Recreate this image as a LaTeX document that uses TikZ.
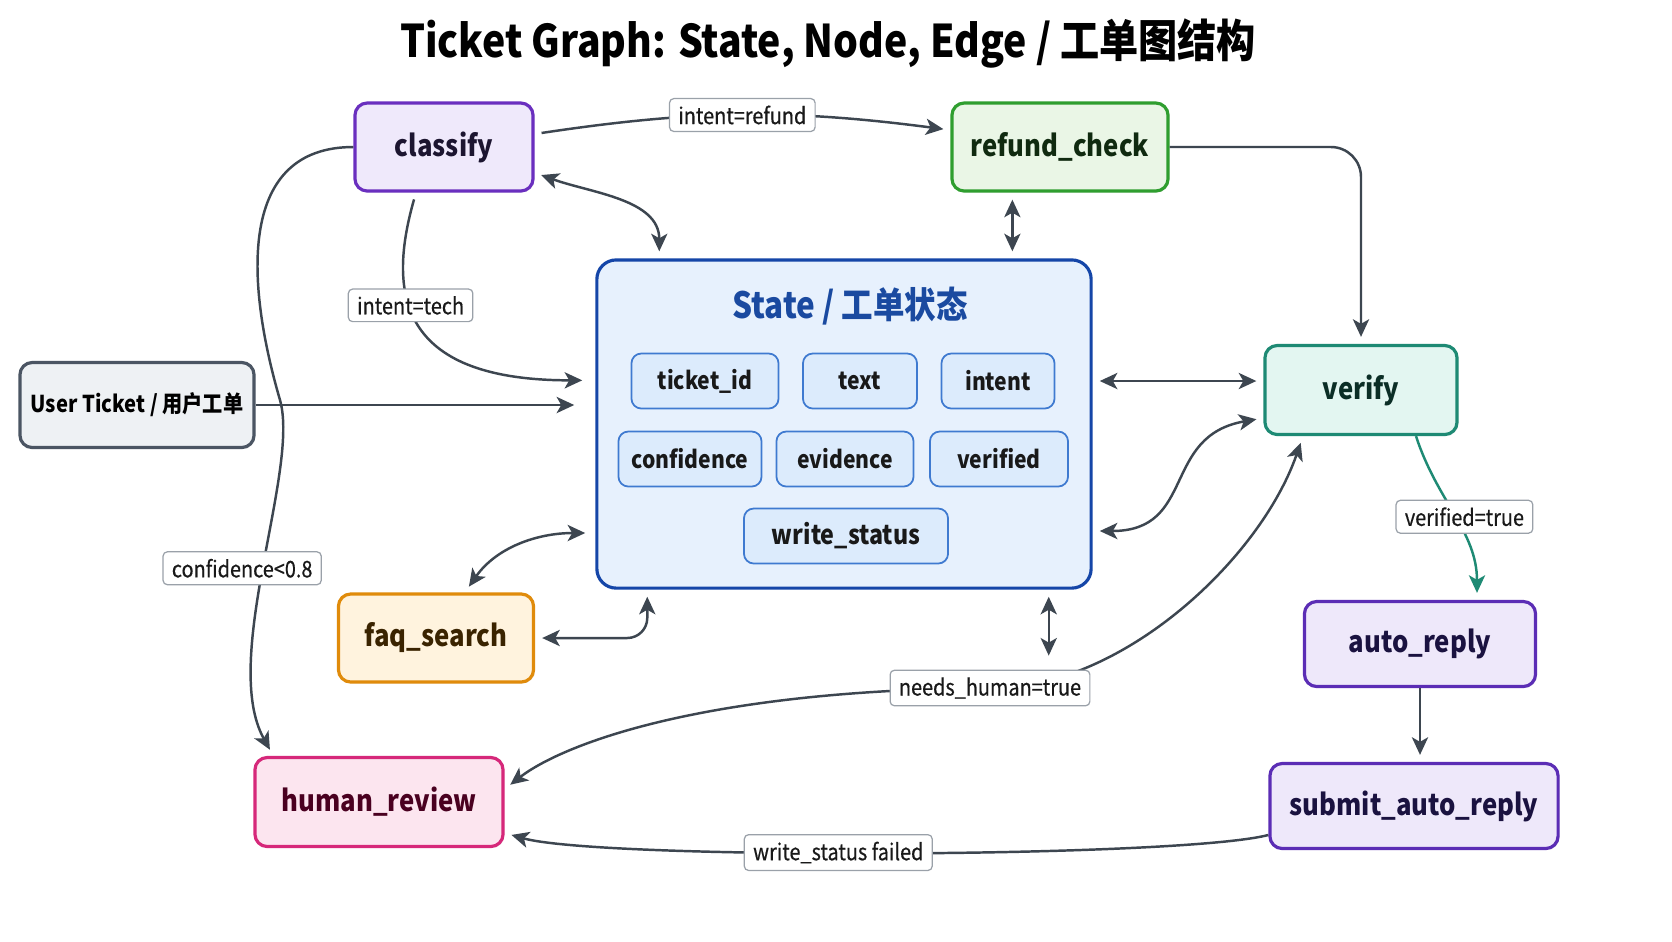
\documentclass[tikz,border=0pt]{standalone}
\usepackage{fontspec}
\setmainfont{Noto Sans CJK SC}[FakeStretch=0.87]
\newfontfamily\lblfont{Noto Sans CJK SC}[FakeStretch=0.87, FakeBold=0.5]
\usepackage{xcolor}
\usepackage{tikz}
\usetikzlibrary{arrows.meta, calc, shadows}
\definecolor{edgecol}{HTML}{3D4650}
\definecolor{lblcol}{HTML}{9AA1A9}
\definecolor{clsfill}{HTML}{EFE9FB}
\definecolor{clsdraw}{HTML}{6A2FBF}
\definecolor{clstext}{HTML}{1C1530}
\definecolor{grnfill}{HTML}{EAF6E6}
\definecolor{grndraw}{HTML}{2F9E2F}
\definecolor{grntext}{HTML}{102A10}
\definecolor{tealfill}{HTML}{E3F6F1}
\definecolor{tealdraw}{HTML}{1E8A74}
\definecolor{tealtext}{HTML}{0B2E26}
\definecolor{orgfill}{HTML}{FFF3DE}
\definecolor{orgdraw}{HTML}{E08B0B}
\definecolor{orgtext}{HTML}{3A2300}
\definecolor{pnkfill}{HTML}{FCE5EF}
\definecolor{pnkdraw}{HTML}{D6287A}
\definecolor{pnktext}{HTML}{4A0020}
\definecolor{autofill}{HTML}{EEE8FA}
\definecolor{autodraw}{HTML}{5B2DB5}
\definecolor{autotext}{HTML}{1A1240}
\definecolor{userfill}{HTML}{EEF1F4}
\definecolor{userdraw}{HTML}{4B5563}
\definecolor{statefill}{HTML}{E7F1FD}
\definecolor{statedraw}{HTML}{1546A8}
\definecolor{statetext}{HTML}{1A4AA0}
\definecolor{fieldfill}{HTML}{DCEBFC}
\definecolor{fielddraw}{HTML}{3F7AD0}
\tikzset{
    modnode/.style   = {draw, line width=0.9pt, rounded corners=3.5pt, align=center,
                        font=\fontsize{8.4}{10}\selectfont\bfseries, inner sep=2pt,
                        minimum height=0.88cm, drop shadow={opacity=0.12,
                        shadow xshift=0.4pt, shadow yshift=-0.4pt}},
    clsnode/.style   = {modnode, fill=clsfill, draw=clsdraw, text=clstext},
    grnnode/.style   = {modnode, fill=grnfill, draw=grndraw, text=grntext},
    tealnode/.style  = {modnode, fill=tealfill, draw=tealdraw, text=tealtext},
    orgnode/.style   = {modnode, fill=orgfill, draw=orgdraw, text=orgtext},
    pnknode/.style   = {modnode, fill=pnkfill, draw=pnkdraw, text=pnktext},
    autonode/.style  = {modnode, fill=autofill, draw=autodraw, text=autotext},
    usernode/.style  = {modnode, fill=userfill, draw=userdraw, text=black,
                        font=\fontsize{6.6}{8}\selectfont\bfseries},
    fieldnode/.style = {draw=fielddraw, fill=fieldfill, line width=0.5pt,
                        rounded corners=2.8pt, minimum height=0.55cm, inner sep=1pt,
                        font=\fontsize{6.9}{9}\selectfont\bfseries, text=black!90},
    link/.style      = {-{Stealth[length=5pt, width=4.6pt, inset=1.3pt]}, line width=0.7pt,
                        edgecol, shorten >=2pt, shorten <=2pt},
    bilink/.style    = {link, {Stealth[length=5pt, width=4.6pt, inset=1.3pt]}-{Stealth[length=5pt, width=4.6pt, inset=1.3pt]}},
    edgelbl/.style   = {draw=lblcol, fill=white, line width=0.35pt, rounded corners=1.2pt,
                        font=\lblfont\fontsize{6.5}{8}\selectfont, text=black!90,
                        inner xsep=2.5pt, inner ysep=2pt},
}

\begin{document}
\begin{tikzpicture}[x=0.01cm, y=-0.01cm]
\fill[white] (0,0) rectangle (1672,941);
\useasboundingbox (0,0) rectangle (1672,941);

\node[font=\fontsize{12.8}{15}\selectfont\bfseries] (title) at (828,44)
    {Ticket Graph: State, Node, Edge / 工单图结构};

% shared state
\node[draw=statedraw, fill=statefill, line width=0.9pt, rounded corners=5.5pt,
      minimum width=4.94cm, minimum height=3.28cm] (state) at (844,424) {};
\node[font=\fontsize{10.3}{12}\selectfont\bfseries, text=statetext] (statetitle) at (850,306)
    {State / 工单状态};
\node[fieldnode, minimum width=1.47cm] (ticketid) at (705,381) {ticket\_id};
\node[fieldnode, minimum width=1.14cm] (text)     at (860,381) {text};
\node[fieldnode, minimum width=1.13cm] (intent)   at (998,381) {intent};
\node[fieldnode, minimum width=1.43cm] (confid)   at (690,459) {confidence};
\node[fieldnode, minimum width=1.37cm] (evid)     at (845,459) {evidence};
\node[fieldnode, minimum width=1.38cm] (verified) at (999,459) {verified};
\node[fieldnode, minimum width=2.04cm, font=\fontsize{7.6}{9}\selectfont\bfseries]
    (wstatus) at (846,536) {write\_status};

% graph nodes
\node[clsnode,  minimum width=1.78cm] (classify) at (444,147)  {classify};
\node[grnnode,  minimum width=2.16cm] (refund)   at (1060,147) {refund\_check};
\node[usernode, minimum width=2.34cm, minimum height=0.85cm] (user) at (137,405)
    {User Ticket / 用户工单};
\node[tealnode, minimum width=1.92cm, minimum height=0.89cm] (verify) at (1361,390) {verify};
\node[orgnode,  minimum width=1.95cm] (faq)      at (436,638)  {faq\_search};
\node[pnknode,  minimum width=2.48cm, minimum height=0.89cm] (human) at (379,802) {human\_review};
\node[autonode, minimum width=2.31cm, minimum height=0.85cm] (auto)   at (1420,644) {auto\_reply};
\node[autonode, minimum width=2.88cm, minimum height=0.85cm] (submit) at (1414,806) {submit\_auto\_reply};

% edges
\draw[link] ($(classify.east)+(0,-13)$) to[bend left=8]
    node[edgelbl] {intent=refund} ($(refund.west)+(0,-17)$);
\draw[link, rounded corners=0.3cm, shorten <=0pt] (refund.east) -| (verify.north);
\draw[bilink] ($(classify.south east)+(0,-20)$) to[out=-20, in=90] ($(state.north west)+(64,0)$);
\coordinate (rc) at ($(refund.south west)+(62,0)$);
\draw[bilink] (rc) -- (rc |- state.north);
\draw[link] ($(classify.south)+(-28,0)$) .. controls +(-31,108) and +(-184,0) ..
    ($(state.north west)+(-6,122)$) node[edgelbl, pos=0.4] {intent=tech};
\draw[link, shorten <=0pt] (classify.west) .. controls +(-115,0) and (245,280) .. (280,400)
    .. controls (300,470) and (220,660) .. ($(human.north west)+(20,0)$)
    node[edgelbl, pos=0.5, xshift=-0.22cm] {confidence<0.8};
\draw[link, shorten <=0pt] (user.east) -- ($(user.east -| state.west)+(-14,0)$);
\draw[bilink] ($(state.west)+(-3,109)$) to[out=180, in=55] ($(faq.north west)+(128,0)$);
\draw[bilink, rounded corners=0.2cm] (faq.east) -| ($(state.south west)+(52,0)$);
\draw[bilink] ($(state.east)+(0,-43)$) -- ($(verify.west)+(0,-9)$);
\draw[bilink] ($(state.east)+(0,107)$) to[out=0, in=190, looseness=1.3] ($(verify.west)+(0,28)$);
\draw[bilink] ($(human.east)+(0,-13)$) .. controls +(57,-44) and (700,690) .. (990,688)
    node[edgelbl] (nh) {needs\_human=true}
    .. controls (1120,690) and (1260,560) .. ($(verify.south)+(-58,0)$);
\coordinate (sb) at ($(state.south east)+(-44,0)$);
\draw[bilink, shorten >=4pt] (sb) -- (sb |- nh.north);
\draw[link, tealdraw, shorten <=0pt] ($(verify.south)+(55,0)$) to[out=-72, in=90]
    node[edgelbl, xshift=0.1cm] {verified=true} ($(auto.north)+(57,0)$);
\draw[link, shorten <=0pt] (auto.south) -- (auto.south |- submit.north);
\draw[link, shorten <=0pt] ($(submit.west)+(0,29)$) .. controls +(-90,23) and (600,860) ..
    ($(human.east)+(0,31)$) node[edgelbl, pos=0.55] {write\_status failed};

\end{tikzpicture}
\end{document}
